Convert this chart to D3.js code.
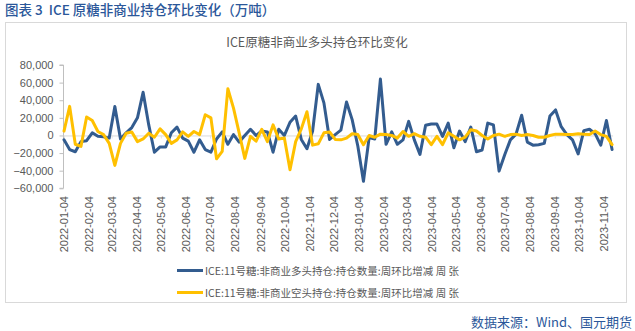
<!DOCTYPE html>
<html>
<head>
<meta charset="utf-8">
<script src="https://cdn.jsdelivr.net/npm/d3@7"></script>
<style>
  html, body { margin: 0; padding: 0; background: #fff; }
  svg { display: block; }
</style>
</head>
<body>
<svg id="chart" width="635" height="331"></svg>
<script>
// ---- data ----
const startDate = "2022-01-04"; // weekly observations (Tuesdays)
const longChange = [
  -5000, -16000, -18500, -7000, -6000, 3000, -1000, -1500, -3000, 33000,
  -4000, 3000, 9000, 20000, 49000, 12000, -19000, -13000, -13000, 3000,
  9500, -3000, -6500, -19000, -5000, -16000, -19000, -4000, 4000, -10000,
  1000, -7500, 0, 7000, 0, 5000, 4000, -19000, 7000, 0,
  15000, 22000, -4500, -15000, 5000, 58000, 37000, -4500, 1000, 6000,
  38000, 18000, -12000, -52000, -2500, -4000, 64000, -10000, 4000, -10000,
  -5000, 16000, -5000, -21500, 11500, 13000, 13000, -1000, 14000, -14000,
  5000, -7000, 9500, -18500, -16500, 14000, 12000, -40500, -22000, -5000,
  1500, 23000, -7500, -11000, -10500, -9000, 22000, 29000, 10000, 1000,
  -5000, -21000, 5500, 7000, 2000, -11000, 17000, -16000
];
const shortChange = [
  5000, 33000, -10000, -12500, 21000, 17000, 4500, 1000, -9000, -34000,
  -9000, 2500, 4000, -7000, -4000, 2500, -2000, 7500, 1000, -9000,
  -5000, 4000, -1000, 4500, 1000, 23500, 20000, -26500, -18000, 53000,
  31000, 3000, -26000, -1000, -6500, 7000, -7000, 12000, -4000, -3000,
  -39000, -7000, 7500, 27000, -11000, -9500, 3000, 4000, -4500, -5000,
  -3000, 2000, 1000, -10500, 0, -2000, 1500, 1000, 0, -3000,
  4500, -1000, 2000, -1000, -2000, -10500, -1000, -10500, 3000, -1000,
  -5000, -2000, 6500, 5000, 0, -4000, 0, 1500, -1000, 1000,
  1500, 0, 1000, 0, -2000, -2000, 0, 1500, 1500, 1000,
  1000, 2000, 1500, 1000, 5000, 1000, -1000, -10500
];
const xTickLabels = [
  "2022-01-04","2022-02-04","2022-03-04","2022-04-04","2022-05-04","2022-06-04",
  "2022-07-04","2022-08-04","2022-09-04","2022-10-04","2022-11-04","2022-12-04",
  "2023-01-04","2023-02-04","2023-03-04","2023-04-04","2023-05-04","2023-06-04",
  "2023-07-04","2023-08-04","2023-09-04","2023-10-04","2023-11-04"
];
const yTicks = [-60000, -40000, -20000, 0, 20000, 40000, 60000, 80000];
const seriesNames = [
  "ICE:11号糖:非商业多头持仓:持仓数量:周环比增减 周 张",
  "ICE:11号糖:非商业空头持仓:持仓数量:周环比增减 周 张"
];
const seriesColors = ["#335c8f", "#ffc000"];
const headerText = "图表 3  ICE 原糖非商业持仓环比变化（万吨）";
const chartTitle = "ICE原糖非商业多头持仓环比变化";
const sourceText = "数据来源：Wind、国元期货";

// ---- build ----
const parse = d3.utcParse("%Y-%m-%d");
const t0 = parse(startDate);
const dates = longChange.map((_, i) => d3.utcDay.offset(t0, 7 * i));
const series = [longChange, shortChange];

const svg = d3.select("#chart");
const cjk = "'Noto Sans CJK SC', 'Noto Sans', sans-serif";
const latin = "'Liberation Sans', Arial, sans-serif";

// header
svg.append("text").attr("x", 5).attr("y", 15)
  .attr("font-family", cjk).attr("font-size", 13.5).attr("font-weight", 500)
  .attr("fill", "#2b579a").style("white-space", "pre").text(headerText);

// chart frame
svg.append("rect").attr("x", 5.5).attr("y", 22.5).attr("width", 621).attr("height", 280)
  .attr("fill", "#fff").attr("stroke", "#d9d9d9").attr("stroke-width", 1);

// chart title
svg.append("text").attr("x", 317).attr("y", 47).attr("text-anchor", "middle")
  .attr("font-family", cjk).attr("font-size", 12.5).attr("fill", "#595959").text(chartTitle);

const x = d3.scaleUtc()
  .domain([parse(xTickLabels[0]), parse(xTickLabels[xTickLabels.length - 1])])
  .range([64, 604]);
const y = d3.scaleLinear().domain([-60000, 80000]).range([188.3, 65]);

// y axis
const yAxis = d3.axisLeft(y).tickValues(yTicks).tickSize(4).tickPadding(6)
  .tickFormat(d3.format(","));
const gy = svg.append("g").attr("transform", "translate(63.5,0)").call(yAxis);
gy.select(".domain").attr("stroke", "#bfbfbf").attr("d", `M-4,${y(-60000)}H0V${y(80000)}H-4`);
gy.selectAll(".tick line").attr("stroke", "#bfbfbf");
gy.selectAll(".tick text").attr("font-family", latin).attr("font-size", 11).attr("fill", "#595959");

// x axis at zero
const xAxis = d3.axisBottom(x).tickValues(xTickLabels.map(parse)).tickSize(3)
  .tickFormat(d3.utcFormat("%Y-%m-%d"));
const gx = svg.append("g").attr("transform", `translate(0,${y(0)})`).call(xAxis);
gx.select(".domain").attr("stroke", "#d9d9d9").attr("d", `M63.5,0.5H${x(dates[dates.length - 1]) + 1}`);
gx.selectAll(".tick line").attr("stroke", "#e3e3e3");
gx.selectAll(".tick text")
  .attr("font-family", latin).attr("font-size", 11).attr("fill", "#595959")
  .attr("text-anchor", "end")
  .attr("transform", function () { return `translate(0,${196 - y(0)}) rotate(-90)`; })
  .attr("x", 0).attr("y", 0).attr("dy", "0.35em");

// lines
const line = d3.line().x((d, i) => x(dates[i])).y(d => y(d));
series.forEach((s, k) => {
  svg.append("path").datum(s).attr("d", line)
    .attr("fill", "none").attr("stroke", seriesColors[k]).attr("stroke-width", 3)
    .attr("stroke-linejoin", "round").attr("stroke-linecap", "round");
});

// legend
seriesNames.forEach((name, k) => {
  const ly = 270.5 + k * 22;
  svg.append("line").attr("x1", 177).attr("x2", 203).attr("y1", ly).attr("y2", ly)
    .attr("stroke", seriesColors[k]).attr("stroke-width", 3);
  svg.append("text").attr("x", 205).attr("y", ly + 4)
    .attr("font-family", cjk).attr("font-size", 10.5).attr("fill", "#595959").text(name);
});

// source
svg.append("text").attr("x", 632).attr("y", 327).attr("text-anchor", "end")
  .attr("font-family", cjk).attr("font-size", 13).attr("fill", "#2b579a").text(sourceText);
</script>
</body>
</html>
